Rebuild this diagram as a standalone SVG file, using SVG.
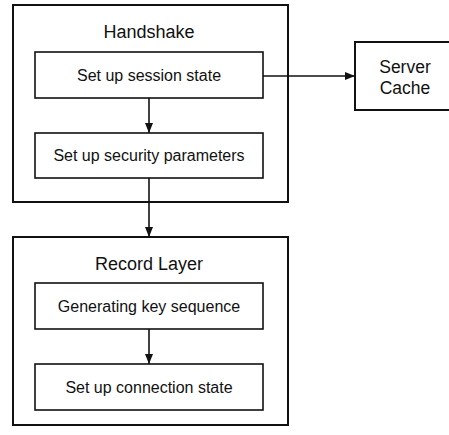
<svg xmlns="http://www.w3.org/2000/svg" width="449" height="435" viewBox="0 0 449 435">
  <style>
    .outer { fill: none; stroke: #111; stroke-width: 2; }
    .inner { fill: #fff; stroke: #111; stroke-width: 1.6; }
    .title { font-family: "Liberation Sans", Arial, sans-serif; font-size: 18px; fill: #111; text-anchor: middle; }
    .cache { font-family: "Liberation Sans", Arial, sans-serif; font-size: 17.5px; fill: #111; text-anchor: middle; }
    .label { font-family: "Liberation Sans", Arial, sans-serif; font-size: 16px; fill: #111; text-anchor: middle; }
    .edge { fill: none; stroke: #111; stroke-width: 1.6; }
  </style>
  <defs>
    <marker id="arrow" viewBox="0 0 10 8" refX="10" refY="4" markerWidth="10" markerHeight="8" markerUnits="userSpaceOnUse" orient="auto">
      <path d="M0,0 L10,4 L0,8 Z" fill="#111"/>
    </marker>
  </defs>

  <rect width="449" height="435" fill="#fff"/>

  <!-- Handshake phase -->
  <g id="handshake">
    <rect class="outer" x="13" y="5" width="275" height="197"/>
    <text class="title" x="149" y="38">Handshake</text>
  </g>
  <g id="session-state">
    <rect class="inner" x="35" y="52" width="228" height="46"/>
    <text class="label" x="149" y="81">Set up session state</text>
  </g>
  <g id="security-parameters">
    <rect class="inner" x="35" y="133" width="228" height="45"/>
    <text class="label" x="149" y="161">Set up security parameters</text>
  </g>

  <!-- Record layer phase -->
  <g id="record-layer">
    <rect class="outer" x="13" y="237" width="275" height="188"/>
    <text class="title" x="149" y="270">Record Layer</text>
  </g>
  <g id="key-sequence">
    <rect class="inner" x="35" y="283" width="228" height="46"/>
    <text class="label" x="149" y="312">Generating key sequence</text>
  </g>
  <g id="connection-state">
    <rect class="inner" x="35" y="364" width="228" height="46"/>
    <text class="label" x="149" y="393">Set up connection state</text>
  </g>

  <!-- Server cache (right side runs past the edge) -->
  <g id="server-cache">
    <rect class="outer" x="355" y="42" width="100" height="68"/>
    <text class="cache" x="405" y="73">Server</text>
    <text class="cache" x="405" y="94">Cache</text>
  </g>

  <g id="connectors">
    <line class="edge" x1="149" y1="98" x2="149" y2="133" marker-end="url(#arrow)"/>
    <line class="edge" x1="149" y1="178" x2="149" y2="237" marker-end="url(#arrow)"/>
    <line class="edge" x1="149" y1="329" x2="149" y2="364" marker-end="url(#arrow)"/>
    <line class="edge" x1="263" y1="76" x2="355" y2="76" marker-end="url(#arrow)"/>
  </g>
</svg>
